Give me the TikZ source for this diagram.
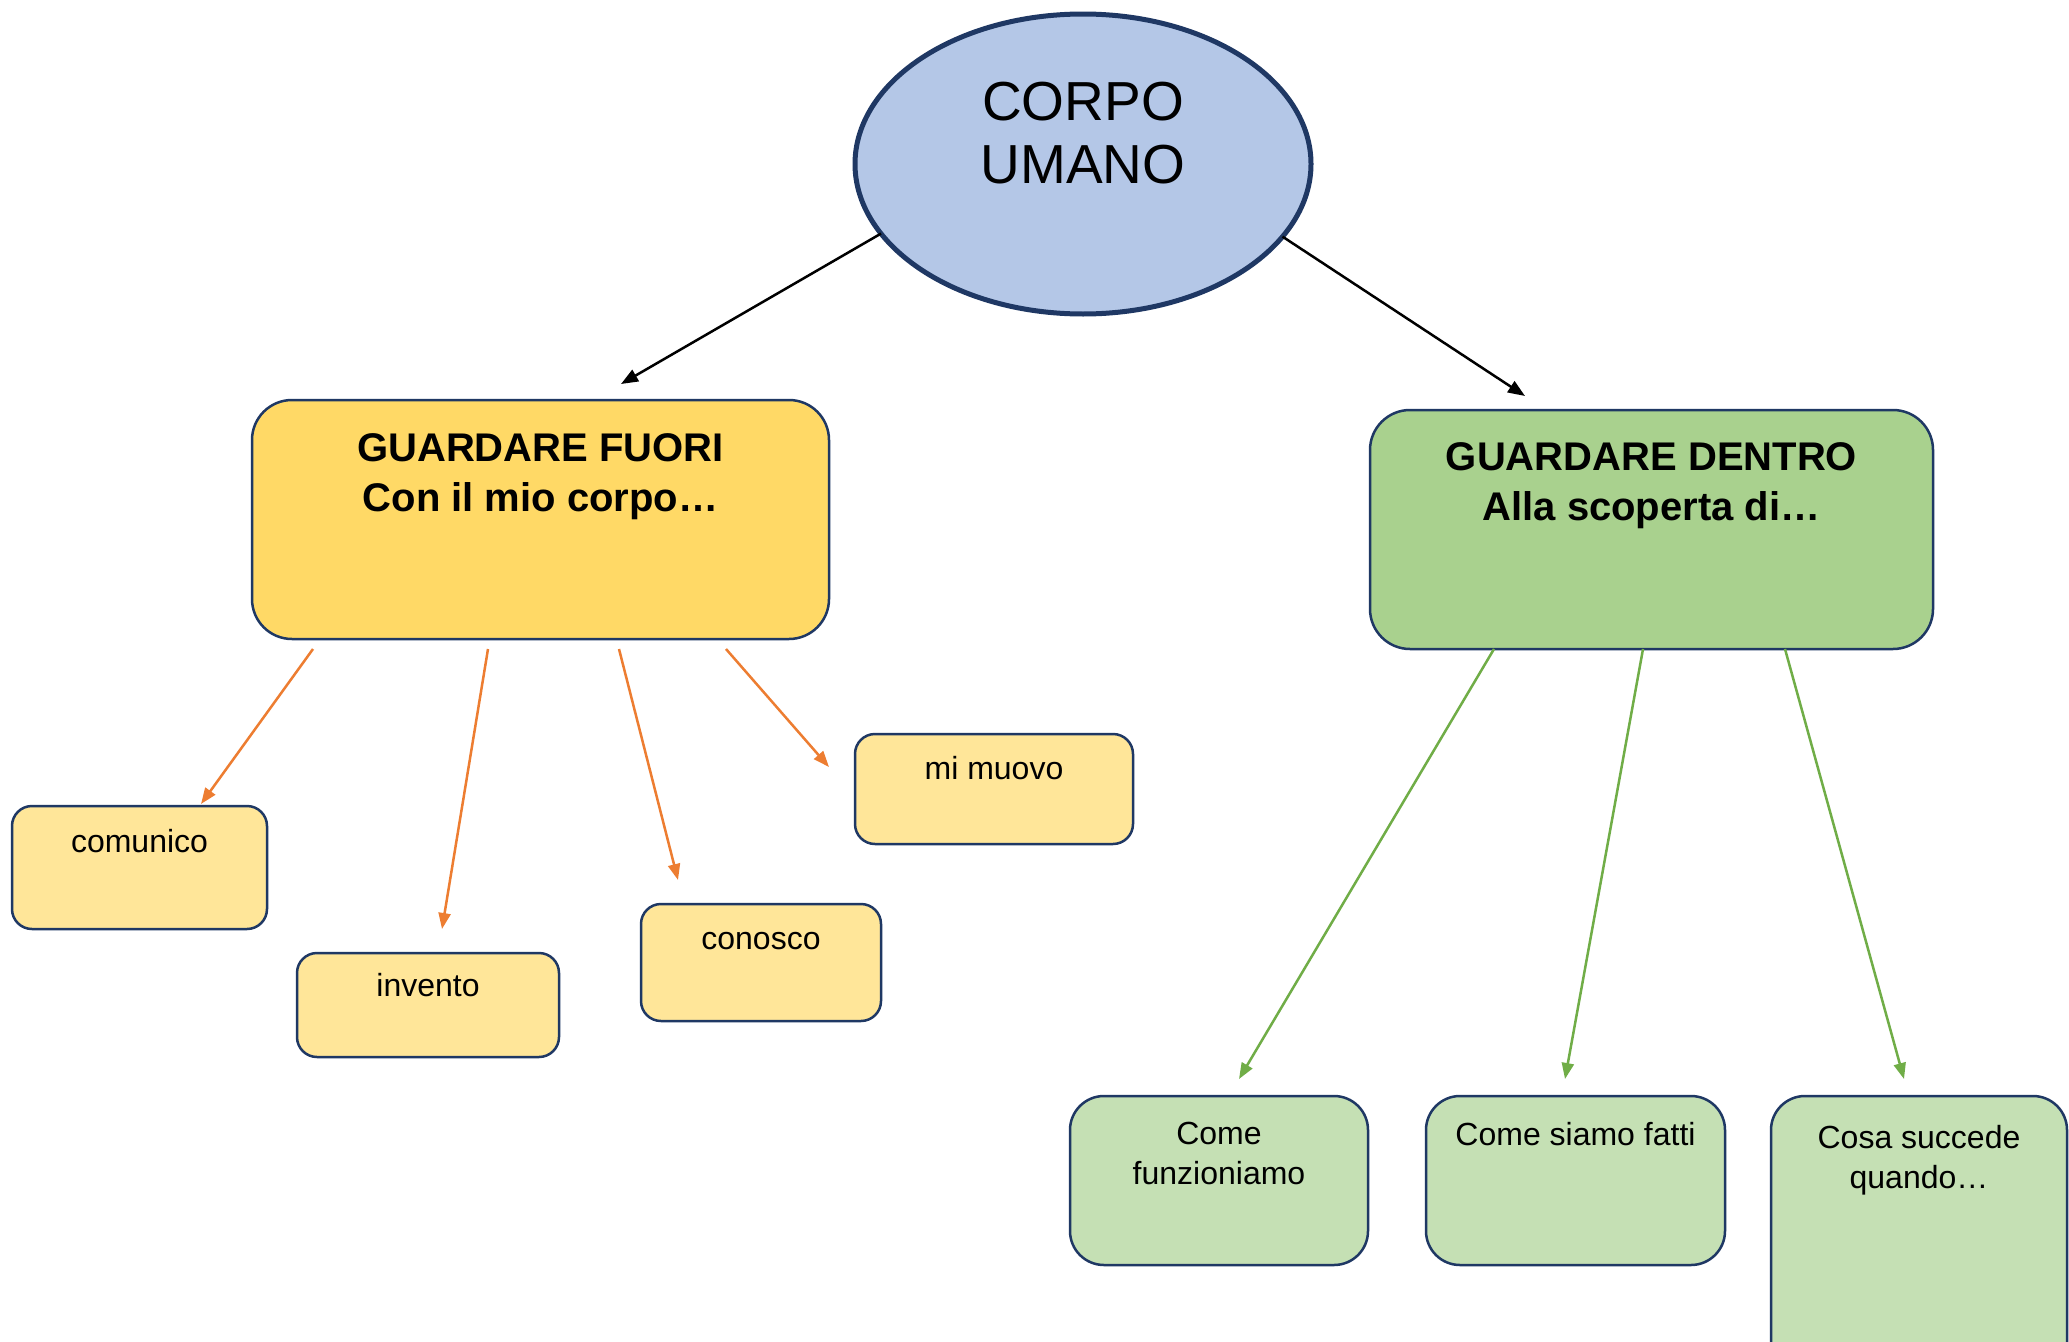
\documentclass[tikz,border=0pt]{standalone}
\usepackage{fontspec}
\setmainfont{Liberation Sans}
\usetikzlibrary{shapes.geometric,arrows.meta}
\definecolor{navy}{HTML}{1F3864}
\definecolor{ellfill}{HTML}{B4C7E7}
\definecolor{bigyellow}{HTML}{FFD966}
\definecolor{smallyellow}{HTML}{FFE699}
\definecolor{biggreen}{HTML}{A9D18E}
\definecolor{smallgreen}{HTML}{C5E0B4}
\definecolor{arrorange}{HTML}{ED7D31}
\definecolor{arrgreen}{HTML}{70AD47}
\begin{document}
\begin{tikzpicture}[x=1pt,y=-1pt,
  box/.style={draw=navy, line width=2.5pt, rectangle, inner sep=0pt, outer sep=0pt},
  bigbox/.style={box, rounded corners=40pt},
  yelbox/.style={box, fill=smallyellow, rounded corners=20pt},
  grnbox/.style={box, fill=smallgreen, rounded corners=34pt},
  txt/.style={inner sep=0pt, outer sep=0pt, align=center},
  bigtxt/.style={txt, font=\fontsize{40}{50}\selectfont\bfseries},
  smalltxt/.style={txt, font=\fontsize{32}{40}\selectfont},
  blackarrow/.style={draw=black, line width=2.5pt, -{Triangle[length=17pt,width=13pt]}},
  orangearrow/.style={draw=arrorange, line width=2.5pt, -{Triangle[length=16pt,width=12pt]}},
  greenarrow/.style={draw=arrgreen, line width=2.5pt, -{Triangle[length=16pt,width=12pt]}}
]
\clip (0,0) rectangle (2069,1341);
\fill[white] (0,0) rectangle (2069,1341);

% central ellipse
\node[ellipse, draw=navy, line width=5pt, fill=ellfill, minimum width=456pt, minimum height=300pt, inner sep=0pt, outer sep=0pt] (corpo) at (1083,164) {};
\node[txt, font=\fontsize{55}{63}\selectfont] (corpo-t) at (1083,133) {CORPO\\UMANO};

% big boxes
\node[bigbox, fill=bigyellow, minimum width=577pt, minimum height=239pt] (fuori) at (540.5,519.5) {};
\node[bigtxt] (fuori-t) at (540.5,477) {GUARDARE FUORI\\Con il mio corpo…};

\node[bigbox, fill=biggreen, minimum width=563pt, minimum height=239pt] (dentro) at (1651.5,529.5) {};
\node[bigtxt] (dentro-t) at (1651.5,486) {GUARDARE DENTRO\\Alla scoperta di…};

% small yellow boxes
\node[yelbox, minimum width=255pt, minimum height=123pt] (comunico) at (139.5,867.5) {};
\node[smalltxt, anchor=base] (comunico-t) at (139.5,852) {comunico};

\node[yelbox, minimum width=262pt, minimum height=104pt] (invento) at (428,1005) {};
\node[smalltxt, anchor=base] (invento-t) at (428,996) {invento};

\node[yelbox, minimum width=240pt, minimum height=117pt] (conosco) at (761,962.5) {};
\node[smalltxt, anchor=base] (conosco-t) at (761,949) {conosco};

\node[yelbox, minimum width=278pt, minimum height=110pt] (muovo) at (994,789) {};
\node[smalltxt, anchor=base] (muovo-t) at (994,779) {mi muovo};

% small green boxes
\node[grnbox, minimum width=298pt, minimum height=169pt] (funz) at (1219,1180.5) {};
\node[smalltxt] (funz-t) at (1219,1153.5) {Come\\funzioniamo};

\node[grnbox, minimum width=299pt, minimum height=169pt] (siamo) at (1575.5,1180.5) {};
\node[smalltxt, anchor=base] (siamo-t) at (1575.5,1145) {Come siamo fatti};

\node[grnbox, minimum width=296pt, minimum height=304pt] (cosa) at (1919,1248) {};
\node[smalltxt] (cosa-t) at (1919,1160) {Cosa succede\\quando…};

% connectors
\draw[blackarrow] (corpo.199.44) -- ([xshift=80.5pt,yshift=16pt]fuori.north);
\draw[blackarrow] (corpo.340.44) -- ([xshift=-126.5pt,yshift=14pt]dentro.north);

\draw[orangearrow] ([xshift=-227.5pt,yshift=-10pt]fuori.south) -- ([xshift=61.5pt,yshift=2pt]comunico.north);
\draw[orangearrow] ([xshift=-52.5pt,yshift=-10pt]fuori.south) -- ([xshift=14pt,yshift=24pt]invento.north);
\draw[orangearrow] ([xshift=78.5pt,yshift=-10pt]fuori.south) -- ([xshift=-83pt,yshift=24pt]conosco.north);
\draw[orangearrow] ([xshift=185.5pt,yshift=-10pt]fuori.south) -- ([xshift=-26pt,yshift=22pt]muovo.west);

\draw[greenarrow] ([xshift=-157.5pt]dentro.south) -- ([xshift=20pt,yshift=17pt]funz.north);
\draw[greenarrow] ([xshift=-8.5pt]dentro.south) -- ([xshift=-10.5pt,yshift=17pt]siamo.north);
\draw[greenarrow] ([xshift=133.5pt]dentro.south) -- ([xshift=-15pt,yshift=17pt]cosa.north);
\end{tikzpicture}
\end{document}
